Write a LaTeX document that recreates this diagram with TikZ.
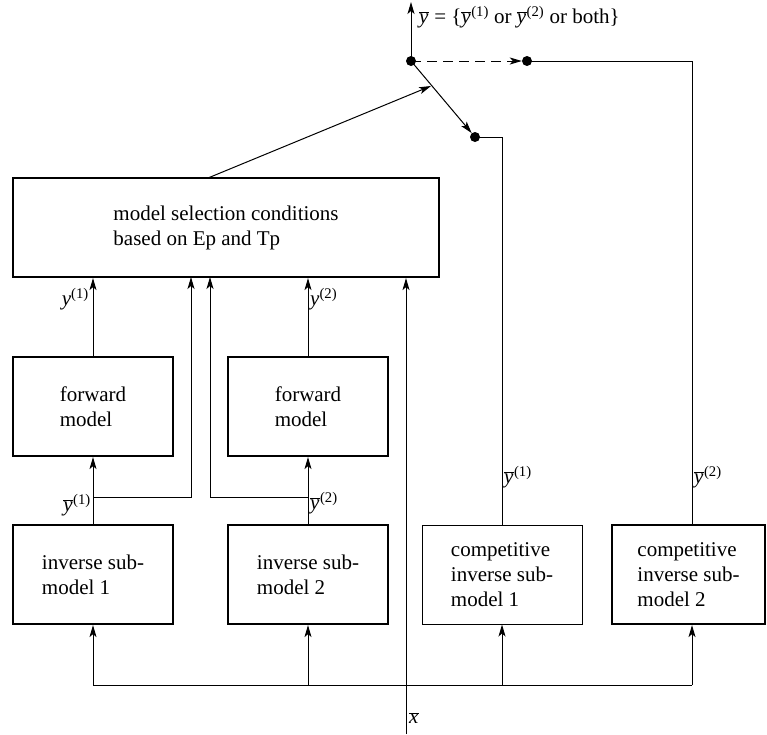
\documentclass[tikz,border=0pt]{standalone}
\usepackage{fontspec}
\setmainfont{Liberation Serif}
\usetikzlibrary{arrows.meta}
\newcommand{\yb}{\mbox{$\overline{\mbox{\itshape y\kern0.5pt}}$}}
\newcommand{\xb}{\mbox{$\overline{\mbox{\itshape x}}$}}
\newcommand{\sps}[1]{\textsuperscript{\upshape(#1)}}
\begin{document}
\begin{tikzpicture}[x=1pt,y=-1pt,
  every node/.style={font=\fontsize{21}{25}\selectfont},
  blk/.style={draw,line width=2.2pt,minimum width=160pt,minimum height=99pt,align=left,inner sep=0pt},
  thinblk/.style={blk,line width=1pt},
  ln/.style={line width=1pt},
  arr/.style={ln,-{Stealth[length=12pt,width=7pt,inset=3pt]}},
  dot/.style={circle,fill,inner sep=0pt,minimum size=10pt},
  lab/.style={inner sep=2pt}]
\useasboundingbox (0,0) rectangle (767,734);
% boxes
\node[blk,minimum width=426pt] (sel) at (226,227.5) {model selection conditions\\based on Ep and Tp};
\node[blk] (fw1) at (93,406.5) {forward\\model};
\node[blk] (fw2) at (308,406.5) {forward\\model};
\node[blk] (inv1) at (93,574.5) {inverse sub-\\model 1};
\node[blk] (inv2) at (308,574.5) {inverse sub-\\model 2};
\node[thinblk] (ci1) at (502,574.5) {competitive\\inverse sub-\\model 1};
\node[blk,minimum width=153pt] (ci2) at (688.5,574.5) {competitive\\inverse sub-\\model 2};
% dots
\node[dot] (d0) at (411,61) {};
\node[dot] (d1) at (527,61) {};
\node[dot] (d2) at (475,137) {};
% coordinates
\coordinate (top) at (411,2);
\coordinate (sw) at (431,86);
\coordinate (selout) at (208,178);
\coordinate (ci1top) at (502,525);
\coordinate (ci2top) at (692,525);
\coordinate (j1) at (93,497);
\coordinate (j2) at (308,497);
\coordinate (xin) at (406,734);
\coordinate (b1) at (93,685);
\coordinate (b2) at (308,685);
\coordinate (b3) at (502,685);
\coordinate (b4) at (692,685);
% top switch
\draw[arr] (d0.center) -- (top);
\node[anchor=west,lab] at (417,17) {\yb{} = \{\yb\sps{1} or \yb\sps{2} or both\}};
\draw[arr,dashed,dash pattern=on 10pt off 6pt] (d0.center) -- (d1);
\draw[ln] (d1.center) -| (ci2top);
\draw[arr] (d0.center) -- (d2);
\draw[ln] (d2.center) -| (ci1top);
\draw[arr] (selout) -- (sw);
% into selection
\draw[arr] (fw1.north) -- (fw1.north |- sel.south);
\node[left,lab] at (91,299) {\itshape y\sps{1}};
\draw[arr] (fw2.north) -- (fw2.north |- sel.south);
\node[right,lab] at (308,299) {\itshape y\sps{2}};
\draw[arr] (inv1.north) -- (fw1.south);
\draw[arr] (inv2.north) -- (fw2.south);
\draw[arr] (j1) -| (191,277);
\draw[arr] (j2) -| (210,277);
\node[left,lab] at (93,505) {\yb\sps{1}};
\node[right,lab] at (308,503) {\yb\sps{2}};
\node[right,lab] at (502,477) {\yb\sps{1}};
\node[right,lab] at (692,477) {\yb\sps{2}};
% input x
\draw[arr] (xin) -- (xin |- sel.south);
\node[anchor=west,inner sep=0pt] at (409,718) {\xb};
\draw[ln] (b1) -- (b4);
\draw[arr] (b1) -- (inv1.south);
\draw[arr] (b2) -- (inv2.south);
\draw[arr] (b3) -- (ci1.south);
\draw[arr] (b4) -- (b4 |- ci2.south);
\end{tikzpicture}
\end{document}
